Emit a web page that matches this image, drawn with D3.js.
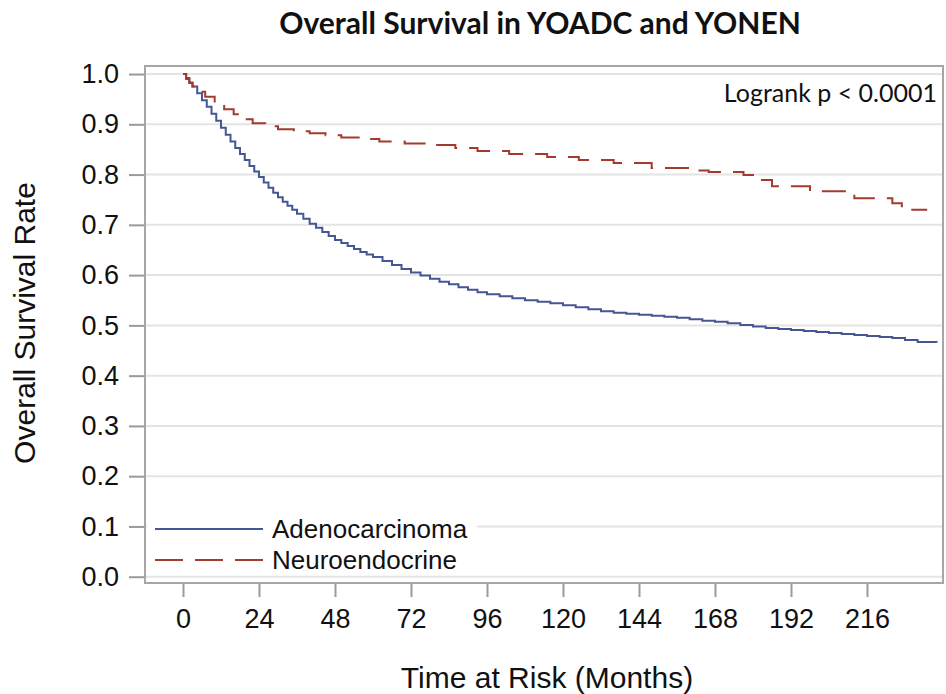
<!DOCTYPE html>
<html lang="en">
<head>
  <meta charset="UTF-8">
  <title>overall-survival</title>
  <script type="text/javascript" src="https://cdn.jsdelivr.net/npm/d3@7/dist/d3.min.js"></script>
  <style>
    body { margin: 0; background: #fff; }
  </style>
</head>
<body>
<div id="chart"></div>
<script type="text/javascript">
    // Kaplan-Meier estimates (month, survival)
    let adeno_months = [0, 1, 2, 3, 4.5, 6, 7.5, 9, 10.5, 12, 13.5, 15, 16.5, 18, 19.5, 21, 22.5, 24, 25.5,
        27, 28.5, 30, 31.5, 33, 34.5, 36, 38, 40, 42, 44, 46, 48, 50, 52, 54, 56, 58, 60, 63, 66, 69, 72,
        75, 78, 81, 84, 87, 90, 93, 96, 100, 104, 108, 112, 116, 120, 124, 128, 132, 136, 140, 144, 148,
        152, 156, 160, 164, 168, 172, 176, 180, 184, 188, 192, 196, 200, 204, 208, 212, 216, 220, 224,
        228, 232, 238];
    let adeno_surv = [1.000, 0.992, 0.983, 0.975, 0.962, 0.948, 0.935, 0.921, 0.907, 0.893, 0.879, 0.866,
        0.853, 0.841, 0.829, 0.817, 0.806, 0.795, 0.784, 0.774, 0.764, 0.755, 0.746, 0.738, 0.730, 0.722,
        0.712, 0.702, 0.694, 0.686, 0.678, 0.670, 0.664, 0.658, 0.652, 0.646, 0.641, 0.636, 0.628, 0.620,
        0.612, 0.605, 0.599, 0.593, 0.587, 0.582, 0.576, 0.571, 0.566, 0.562, 0.558, 0.554, 0.550, 0.547,
        0.544, 0.540, 0.536, 0.532, 0.528, 0.525, 0.523, 0.521, 0.519, 0.517, 0.515, 0.512, 0.509, 0.507,
        0.504, 0.501, 0.498, 0.495, 0.493, 0.491, 0.489, 0.487, 0.485, 0.483, 0.481, 0.479, 0.477, 0.475,
        0.471, 0.467, 0.466];

    let neuro_months = [0, 1, 2, 3, 5, 7, 10, 13, 16, 19, 22, 26, 30, 35, 40, 45, 50, 56, 62, 70, 78, 86,
        93, 103, 115, 125, 136, 148, 161, 166, 177, 182, 186, 198, 212, 224, 227, 235];
    let neuro_surv = [1.000, 0.990, 0.982, 0.975, 0.965, 0.955, 0.942, 0.930, 0.920, 0.910, 0.902, 0.896,
        0.890, 0.886, 0.882, 0.878, 0.874, 0.871, 0.866, 0.862, 0.859, 0.853, 0.847, 0.841, 0.835, 0.829,
        0.823, 0.813, 0.808, 0.805, 0.799, 0.789, 0.777, 0.767, 0.753, 0.743, 0.730, 0.730];

    let x_ticks = [0, 24, 48, 72, 96, 120, 144, 168, 192, 216];
    let y_ticks = [0, 0.1, 0.2, 0.3, 0.4, 0.5, 0.6, 0.7, 0.8, 0.9, 1.0];

    let series_names = ["Adenocarcinoma", "Neuroendocrine"];
    let series_colors = ["#445694", "#a23a2e"];

    let width = 946, height = 694,
        plot_left = 145, plot_top = 66, plot_right = 943, plot_bottom = 583;
    let arial = "'Liberation Sans', Arial, sans-serif",
        calibri = "Lato, 'Open Sans', sans-serif";

    let svg = d3.select("#chart").append("svg")
        .attr("width", width).attr("height", height);

    let x = d3.scaleLinear().domain([-12, 240]).range([plot_left, plot_right]);
    let y = d3.scaleLinear().domain([-0.0125, 1.016]).range([plot_bottom, plot_top]);

    // grid
    svg.append("g").selectAll("line").data(y_ticks).enter().append("line")
        .attr("x1", plot_left).attr("x2", plot_right)
        .attr("y1", d => y(d)).attr("y2", d => y(d))
        .attr("stroke", "#e4e4e4").attr("stroke-width", 2);

    // axes
    let x_axis = svg.append("g").attr("transform", "translate(0," + plot_bottom + ")")
        .call(d3.axisBottom(x).tickValues(x_ticks).tickSize(14).tickPadding(12));
    let y_axis = svg.append("g").attr("transform", "translate(" + plot_left + ",0)")
        .call(d3.axisLeft(y).tickValues(y_ticks).tickFormat(d3.format(".1f")).tickSize(16).tickPadding(10));
    [x_axis, y_axis].forEach(function (a) {
        a.select(".domain").remove();
        a.selectAll(".tick line").attr("stroke", "#9a9a9a").attr("stroke-width", 2);
        a.selectAll(".tick text").attr("font-size", 27)
            .attr("font-family", arial).attr("fill", "#111");
    });

    // curves
    let line = d3.line().x(d => x(d[0])).y(d => y(d[1])).curve(d3.curveStepAfter);
    let curves = [d3.zip(adeno_months, adeno_surv), d3.zip(neuro_months, neuro_surv)];
    svg.append("g").selectAll("path").data(curves).enter().append("path")
        .attr("d", line)
        .attr("fill", "none")
        .attr("stroke", (d, i) => series_colors[i])
        .attr("stroke-width", 2)
        .attr("stroke-dasharray", (d, i) => i === 1 ? "24,12" : null);

    // legend
    let legend = svg.append("g");
    legend.append("rect").attr("x", plot_left + 2).attr("y", 511)
        .attr("width", 330).attr("height", 62).attr("fill", "#fff");
    series_names.forEach(function (name, i) {
        let ly = 529 + i * 31;
        legend.append("line").attr("x1", 155).attr("x2", 263)
            .attr("y1", ly).attr("y2", ly)
            .attr("stroke", series_colors[i]).attr("stroke-width", 2)
            .attr("stroke-dasharray", i === 1 ? "28,12" : null);
        legend.append("text").attr("x", 272).attr("y", ly).attr("dy", "0.35em")
            .attr("font-family", arial).attr("fill", "#111")
            .attr("font-size", 26).text(name);
    });

    // frame
    svg.append("rect").attr("x", plot_left).attr("y", plot_top)
        .attr("width", plot_right - plot_left).attr("height", plot_bottom - plot_top)
        .attr("fill", "none").attr("stroke", "#a6a6a6").attr("stroke-width", 2);

    // texts
    svg.append("text").attr("x", 937).attr("y", 102).attr("text-anchor", "end")
        .attr("font-family", calibri).attr("font-size", 25).attr("fill", "#111")
        .text("Logrank p < 0.0001");
    svg.append("text").attr("x", 540).attr("y", 34).attr("text-anchor", "middle")
        .attr("font-family", calibri).attr("font-weight", "bold").attr("font-size", 30).attr("fill", "#111")
        .text("Overall Survival in YOADC and YONEN");
    svg.append("text").attr("x", 547).attr("y", 688).attr("text-anchor", "middle")
        .attr("font-family", arial).attr("fill", "#111")
        .attr("font-size", 30).text("Time at Risk (Months)");
    svg.append("text").attr("transform", "translate(35,323) rotate(-90)").attr("text-anchor", "middle")
        .attr("font-family", arial).attr("fill", "#111")
        .attr("font-size", 30).text("Overall Survival Rate");
</script>
</body>
</html>
